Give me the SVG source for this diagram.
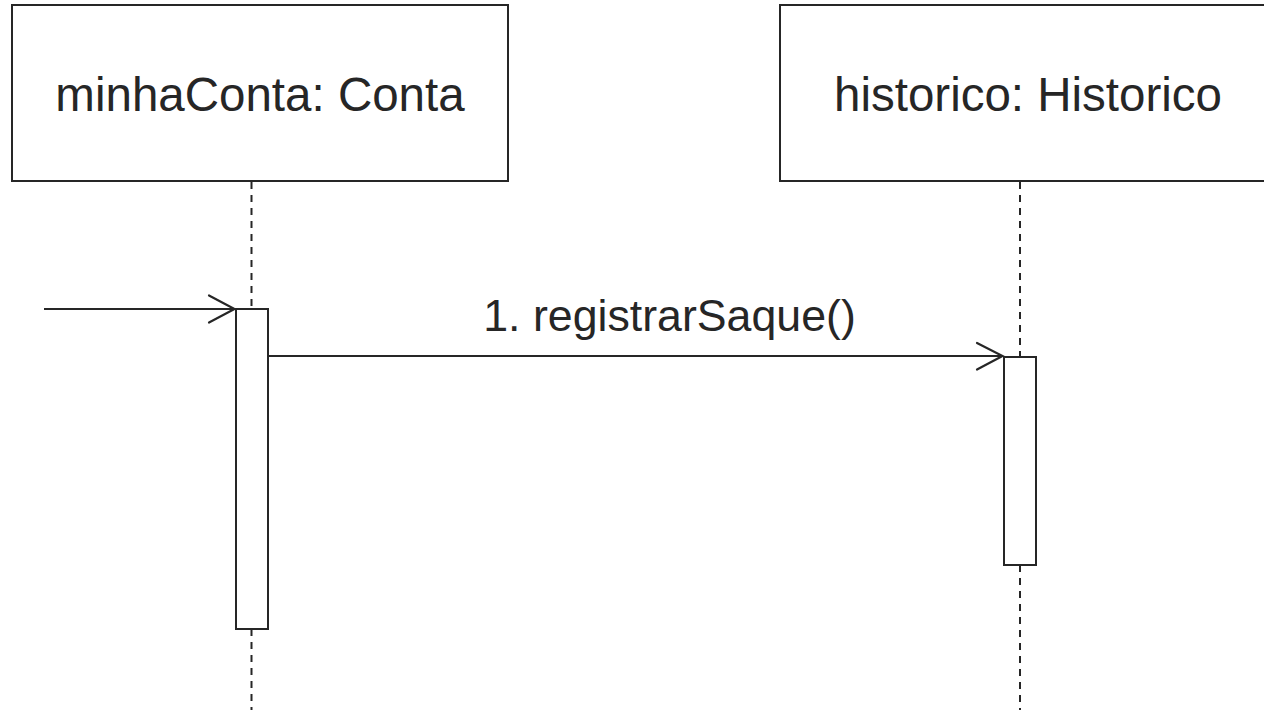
<svg xmlns="http://www.w3.org/2000/svg" width="1264" height="710" viewBox="0 0 1264 710">
  <style>
    .box { fill: #ffffff; stroke: #262626; stroke-width: 2; }
    .act { fill: #ffffff; stroke: #262626; stroke-width: 2; }
    .life { stroke: #262626; stroke-width: 2; stroke-dasharray: 7 6; fill: none; }
    .msg { stroke: #262626; stroke-width: 2; fill: none; }
    .head { stroke: #262626; stroke-width: 2.2; fill: none; stroke-linecap: round; stroke-linejoin: miter; }
    .label { font-family: "Liberation Sans", Arial, sans-serif; font-size: 47.5px; fill: #262626; text-anchor: middle; }
    .mlabel { font-family: "Liberation Sans", Arial, sans-serif; font-size: 44.7px; fill: #262626; text-anchor: middle; }
  </style>

  <rect width="1264" height="710" fill="#ffffff"/>

  <!-- lifelines -->
  <g id="lifelines">
    <line class="life" x1="251.5" y1="182" x2="251.5" y2="309"/>
    <line class="life" x1="251.5" y1="629" x2="251.5" y2="710"/>
    <line class="life" x1="1020" y1="182" x2="1020" y2="357"/>
    <line class="life" x1="1020" y1="565" x2="1020" y2="710"/>
  </g>

  <g id="minhaConta">
    <rect class="box" x="12" y="5" width="496" height="176"/>
    <text class="label" x="260" y="111">minhaConta: Conta</text>
    <rect class="act" x="236" y="309" width="32" height="320"/>
  </g>

  <g id="historico">
    <rect class="box" x="780" y="5" width="496" height="176"/>
    <text class="label" x="1028" y="111">historico: Historico</text>
    <rect class="act" x="1004" y="357" width="32" height="208"/>
  </g>

  <!-- messages -->
  <g id="connectors">
    <line class="msg" x1="44" y1="309" x2="234" y2="309"/>
    <polyline class="head" points="209,295.5 234.5,309 209,322.5"/>
    <line class="msg" x1="268" y1="356" x2="1002" y2="356"/>
    <polyline class="head" points="977,343 1002.5,356 977,369.5"/>
    <text class="mlabel" x="669.5" y="331">1. registrarSaque()</text>
  </g>
</svg>
